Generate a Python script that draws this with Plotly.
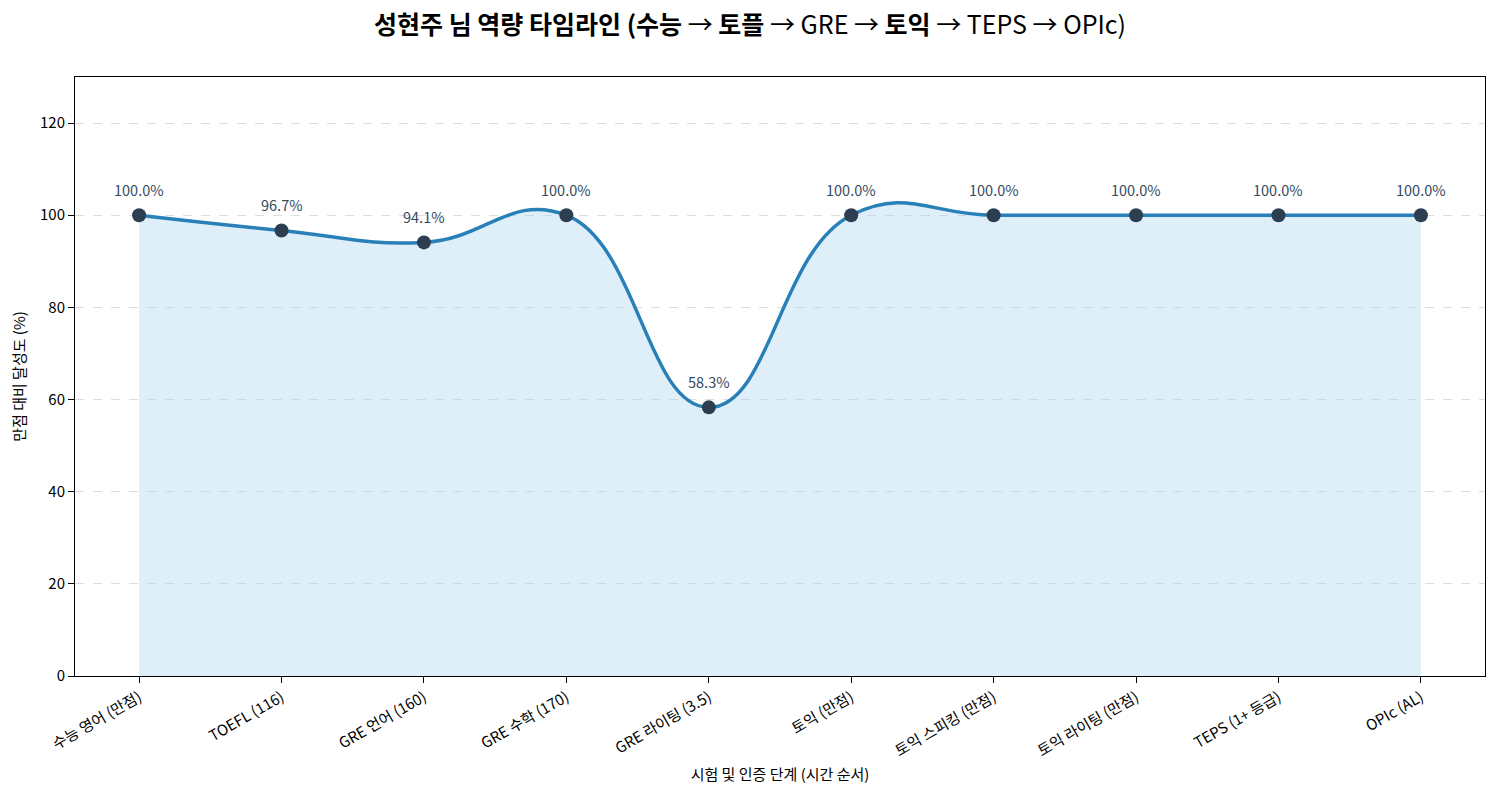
import plotly.graph_objects as go

categories = ["수능 영어 (만점)", "TOEFL (116)", "GRE 언어 (160)", "GRE 수학 (170)",
              "GRE 라이팅 (3.5)", "토익 (만점)", "토익 스피킹 (만점)", "토익 라이팅 (만점)",
              "TEPS (1+ 등급)", "OPIc (AL)"]
achievement = [100.0, 96.7, 94.1, 100.0, 58.3, 100.0, 100.0, 100.0, 100.0, 100.0]
y_ticks = [0, 20, 40, 60, 80, 100, 120]

FONT = "Noto Sans CJK KR, Noto Sans, sans-serif"
xs = list(range(len(categories)))

fig = go.Figure()
fig.add_trace(go.Scatter(
    x=xs, y=achievement, mode="lines",
    line=dict(color="#2980b9", width=3.5, shape="spline", smoothing=1.3),
    fill="tozeroy", fillcolor="rgba(174,214,241,0.4)",
    hoverinfo="skip", showlegend=False))
fig.add_trace(go.Scatter(
    x=xs, y=achievement, mode="markers",
    marker=dict(color="#2c3e50", size=14),
    showlegend=False))

for x, v in zip(xs, achievement):
    fig.add_annotation(x=x, y=v, text=f"{v:.1f}%", showarrow=False,
                       yshift=26, font=dict(family=FONT, size=14.5, color="#34495e"))

title_text = ("<b>성현주 님 역량 타임라인 (수능</b> → <b>토플</b> → GRE → "
              "<b>토익</b> → TEPS → OPIc)")

fig.update_layout(
    width=1500, height=800,
    paper_bgcolor="white", plot_bgcolor="white",
    margin=dict(l=75, r=15, t=77, b=124),
    font=dict(family=FONT, size=14, color="black"),
    title=dict(text=title_text,
               x=0.5, xanchor="center", y=0.968, yanchor="middle",
               font=dict(family=FONT, size=25, color="black")),
)
fig.update_xaxes(
    range=[-0.45, 9.45], tickmode="array", tickvals=xs, ticktext=categories,
    tickangle=-30, ticks="outside", ticklen=6, tickcolor="black",
    showline=True, linecolor="black", linewidth=1, mirror=True,
    showgrid=False, zeroline=False,
    tickfont=dict(family=FONT, size=15),
    title=dict(text="시험 및 인증 단계 (시간 순서)", font=dict(family=FONT, size=15), standoff=10))
fig.update_yaxes(
    range=[0, 130], tickmode="array", tickvals=y_ticks,
    ticks="outside", ticklen=6, tickcolor="black",
    showline=True, linecolor="black", linewidth=1, mirror=True,
    showgrid=True, gridcolor="#dddddd", griddash="dash", gridwidth=1,
    zeroline=False,
    tickfont=dict(family=FONT, size=15),
    title=dict(text="만점 대비 달성도 (%)", font=dict(family=FONT, size=15), standoff=10))

fig.write_html("out.html")
